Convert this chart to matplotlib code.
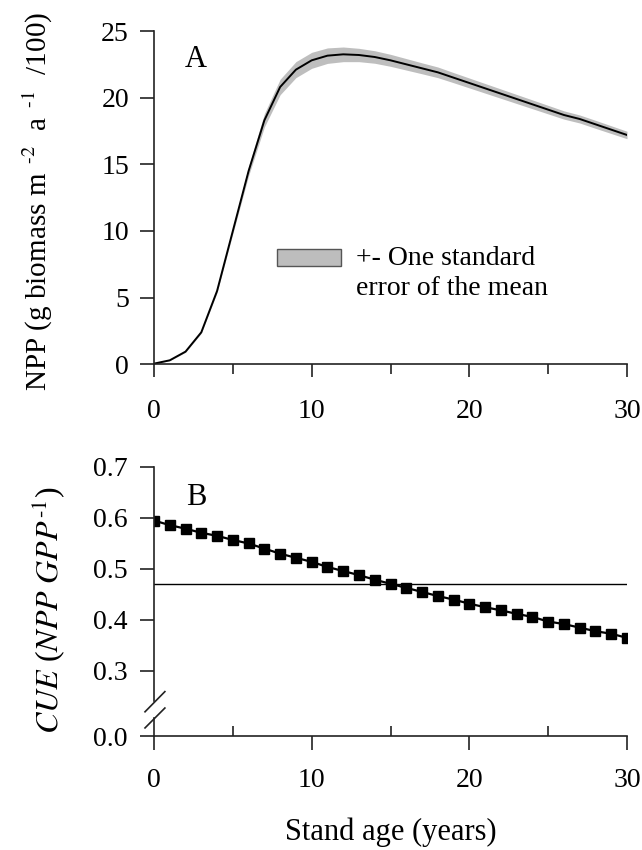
import numpy as np
import matplotlib
matplotlib.use("Agg")
import matplotlib.pyplot as plt
from matplotlib.patches import Rectangle

plt.rcParams['font.family'] = ['Liberation Serif', 'DejaVu Serif']
plt.rcParams['mathtext.fontset'] = 'stix'

# ---- data ----
age = list(range(0, 31))
npp_mean = [0.05, 0.3, 0.95, 2.4, 5.5, 10.0, 14.5, 18.3, 20.8, 22.1, 22.8, 23.15, 23.25,
            23.2, 23.05, 22.8, 22.5, 22.2, 21.9, 21.5, 21.1, 20.7, 20.3, 19.9, 19.5,
            19.1, 18.7, 18.4, 18.0, 17.6, 17.2]
npp_se = [0.03, 0.03, 0.05, 0.07, 0.12, 0.2, 0.35, 0.5, 0.58, 0.6, 0.6, 0.58, 0.55,
          0.5, 0.47, 0.45, 0.43, 0.41, 0.4, 0.38, 0.37, 0.36, 0.35, 0.34, 0.33,
          0.32, 0.31, 0.3, 0.3, 0.29, 0.28]
cue = [0.595, 0.586, 0.579, 0.571, 0.565, 0.557, 0.550, 0.540, 0.530, 0.522, 0.514,
       0.504, 0.496, 0.488, 0.479, 0.471, 0.463, 0.455, 0.447, 0.440, 0.432, 0.425,
       0.419, 0.412, 0.406, 0.397, 0.392, 0.385, 0.378, 0.373, 0.365]
cue_ref = 0.47
npp_yticks = [0, 5, 10, 15, 20, 25]
cue_yticks = [0.0, 0.3, 0.4, 0.5, 0.6, 0.7]
cue_ytick_labels = ["0.0", "0.3", "0.4", "0.5", "0.6", "0.7"]
x_major = [0, 10, 20, 30]
x_minor = [5, 15, 25]

W, H = 642, 850
fig = plt.figure(figsize=(W / 100, H / 100), dpi=100)

def ax_rect(l, r, t, b):
    return [l / W, 1 - b / H, (r - l) / W, (b - t) / H]

FS = 20
AX = '#222222'

# ---- panel A ----
axA = fig.add_axes(ax_rect(154, 627, 31, 364.3))
mean = np.array(npp_mean)
se = np.array(npp_se)
axA.fill_between(age, mean - se, mean + se, color='#bebebe', lw=0)
axA.plot(age, mean, color='black', lw=1.4)
axA.set_xlim(0, 30)
axA.set_ylim(0, 25)
axA.set_yticks(npp_yticks)
axA.set_xticks(x_major)
axA.set_xticks(x_minor, minor=True)
for s in ['top', 'right']:
    axA.spines[s].set_visible(False)
for s in ['left', 'bottom']:
    axA.spines[s].set_linewidth(1.2)
    axA.spines[s].set_color(AX)
axA.tick_params(axis='y', direction='out', length=10, width=1.2, labelsize=FS, pad=8, color=AX)
axA.tick_params(axis='x', which='major', direction='out', length=9, width=1.2, labelsize=FS, pad=16, color=AX)
axA.tick_params(axis='x', which='minor', direction='out', length=7, width=1.2, color=AX)
axA.set_ylabel(r"NPP (g biomass m$^{\ \ \text{-2}}$  a$^{\ \ \text{-1}}$  /100)", fontsize=21)
axA.yaxis.set_label_coords(-0.21, 0.49)
axA.text(0.066, 0.892, "A", transform=axA.transAxes, fontsize=22, va='baseline', ha='left')
axA.add_patch(Rectangle((0.259, 0.295), 0.137, 0.050, transform=axA.transAxes,
                        facecolor='#bdbdbd', edgecolor='#555555', lw=1.0))
axA.text(0.428, 0.298, "+- One standard", transform=axA.transAxes, fontsize=FS, va='baseline')
axA.text(0.428, 0.208, "error of the mean", transform=axA.transAxes, fontsize=FS, va='baseline')

# ---- panel B ----
k = 0.1275 / 0.3
def fwd(y):
    y = np.asarray(y, dtype=float)
    return np.where(y >= 0.3, y, 0.3 - (0.3 - y) * k)
def inv(z):
    z = np.asarray(z, dtype=float)
    return np.where(z >= 0.3, z, 0.3 - (0.3 - z) / k)

axB = fig.add_axes(ax_rect(154, 627, 467, 736))
axB.set_yscale('function', functions=(fwd, inv))
axB.axhline(cue_ref, xmin=0, xmax=1, color='black', lw=1.0)
axB.plot(age, cue, color='black', lw=1.6, marker='s', markersize=7.8,
         markerfacecolor='black', markeredgecolor='black')
axB.set_xlim(0, 30)
axB.set_ylim(0, 0.7)
axB.set_yticks(cue_yticks)
axB.set_yticklabels(cue_ytick_labels)
axB.set_xticks(x_major)
axB.set_xticks(x_minor, minor=True)
for s in ['top', 'right', 'left']:
    axB.spines[s].set_visible(False)
axB.spines['bottom'].set_linewidth(1.2)
axB.spines['bottom'].set_color(AX)
axB.tick_params(axis='y', direction='out', length=10, width=1.2, labelsize=FS, pad=9, color=AX)
axB.tick_params(axis='x', which='major', direction='out', length=10, width=1.2, labelsize=FS, pad=13, color=AX)
axB.tick_params(axis='x', which='minor', direction='in', length=7, width=1.2, color=AX)
# broken left spine
axB.plot([0, 0], [0.0, 0.067], transform=axB.transAxes, color=AX, lw=1.2, clip_on=False)
axB.plot([0, 0], [0.130, 1.0], transform=axB.transAxes, color=AX, lw=1.2, clip_on=False)
axB.plot([-0.019, 0.023], [0.030, 0.104], transform=axB.transAxes, color=AX, lw=1.2, clip_on=False)
axB.plot([-0.019, 0.023], [0.090, 0.165], transform=axB.transAxes, color=AX, lw=1.2, clip_on=False)
axB.set_ylabel(r"$\mathit{CUE}$ ($\mathit{NPP\ GPP}^{\text{-}\mathit{1}}$)", fontsize=23)
axB.yaxis.set_label_coords(-0.184, 0.468)
axB.text(0.068, 0.859, "B", transform=axB.transAxes, fontsize=22, va='baseline', ha='left')
axB.set_xlabel("Stand age (years)", fontsize=22, labelpad=18)

fig.savefig("out.png", dpi=100)
